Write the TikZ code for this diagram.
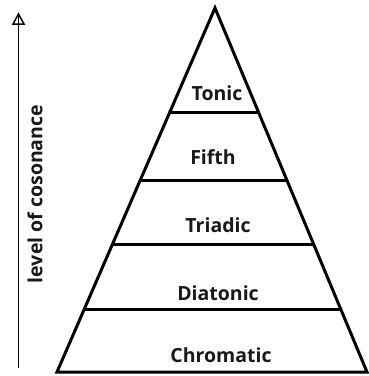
\documentclass[tikz,border=0pt]{standalone}
\usepackage{fontspec}
\setmainfont{Open Sans}
\usetikzlibrary{calc}
\tikzset{
  edge/.style={line width=3pt, line join=miter, line cap=butt},
  lbl/.style={font=\bfseries\fontsize{19.5}{22}\selectfont, inner sep=0pt, text=black!90},
  shaft/.style={line width=1.5pt},
  head/.style={line width=1.5pt, line join=miter}
}
\begin{document}
\begin{tikzpicture}[x=1pt,y=-1pt]
\useasboundingbox (0,0) rectangle (368,376);
\coordinate (A) at (215,8);
\coordinate (BL) at (57,372);
\coordinate (BR) at (367,372);
\coordinate (L1) at ($(A)!0.288!(BL)$);
\coordinate (R1) at ($(A)!0.288!(BR)$);
\coordinate (L2) at ($(A)!0.475!(BL)$);
\coordinate (R2) at ($(A)!0.475!(BR)$);
\coordinate (L3) at ($(A)!0.651!(BL)$);
\coordinate (R3) at ($(A)!0.651!(BR)$);
\coordinate (L4) at ($(A)!0.827!(BL)$);
\coordinate (R4) at ($(A)!0.827!(BR)$);
\draw[edge] (A) -- (BL) -- (BR) -- cycle;
\draw[edge] (L1) -- (R1);
\draw[edge] (L2) -- (R2);
\draw[edge] (L3) -- (R3);
\draw[edge] (L4) -- (R4);
\node[lbl] (tonic) at (217,93) {Tonic};
\node[lbl] (fifth) at (213,157) {Fifth};
\node[lbl] (triadic) at (218,225) {Triadic};
\node[lbl] (diatonic) at (218,293) {Diatonic};
\node[lbl] (chromatic) at (221,355) {Chromatic};
\coordinate (ab) at (18.5,368);
\coordinate (at) at (18.5,14);
\draw[shaft] (ab) -- (at);
\draw[head] (at) -- ++(-5.5,10) -- ++(11,0) -- cycle;
\node[lbl, rotate=90] (level) at (35,194) {level of cosonance};
\end{tikzpicture}
\end{document}
